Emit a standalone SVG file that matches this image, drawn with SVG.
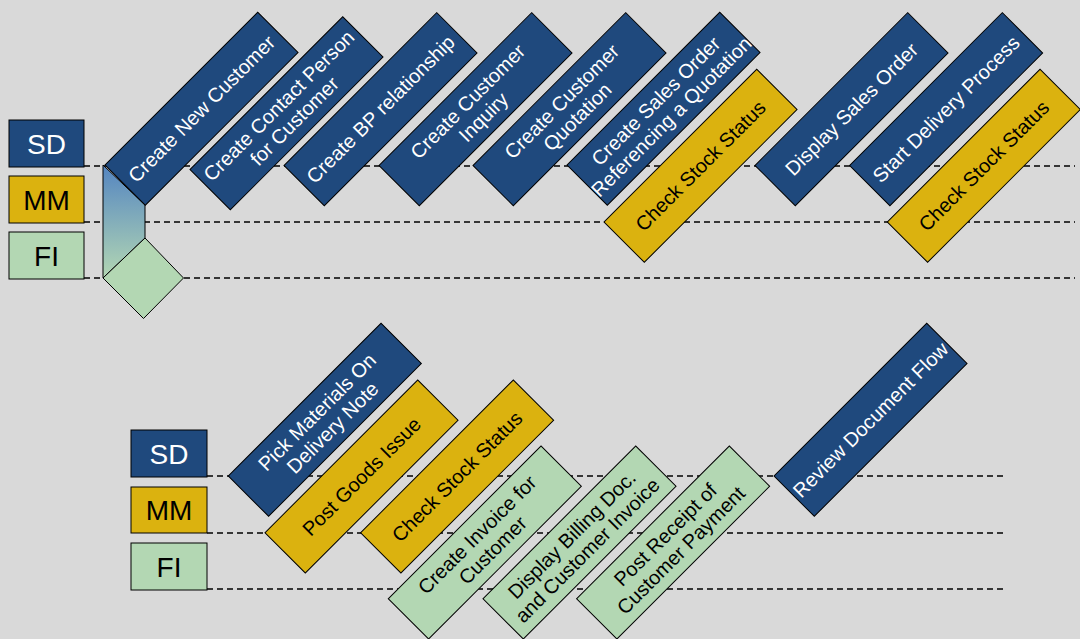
<svg xmlns="http://www.w3.org/2000/svg" width="1080" height="639" viewBox="0 0 1080 639">
<style>
.bg{fill:#d9d9d9}
.lane{stroke:#000;stroke-width:1.3;stroke-dasharray:6,4;fill:none}
.sd{fill:#1f497d;stroke:#000;stroke-width:1}
.mm{fill:#dbb20f;stroke:#000;stroke-width:1}
.fi{fill:#b3d7b3;stroke:#000;stroke-width:1}
text{font-family:"Liberation Sans",Arial,sans-serif;text-anchor:middle}
.t{font-size:20px}
.w{fill:#fff}
.k{fill:#000}
.leg{font-size:28px}
</style>
<defs>
<linearGradient id="g1" x1="0" y1="165" x2="0" y2="278" gradientUnits="userSpaceOnUse">
<stop offset="0" stop-color="#5485c1"/>
<stop offset="1" stop-color="#b3d7b3"/>
</linearGradient>
</defs>
<rect class="bg" x="0" y="0" width="1080" height="639"/>
<g id="connectors">
<line class="lane" x1="84" y1="166" x2="1075" y2="166"/>
<line class="lane" x1="84" y1="222" x2="1075" y2="222"/>
<line class="lane" x1="84" y1="278" x2="1075" y2="278"/>
<line class="lane" x1="207" y1="476" x2="1006" y2="476"/>
<line class="lane" x1="207" y1="533" x2="1006" y2="533"/>
<line class="lane" x1="207" y1="589" x2="1006" y2="589"/>
</g>
<g id="legend-top">
<g id="leg-sd1"><rect class="sd" x="9" y="120" width="75" height="47"/><text class="leg w" x="46.5" y="153.5">SD</text></g>
<g id="leg-mm1"><rect class="mm" x="9" y="176" width="75" height="47"/><text class="leg k" x="46.5" y="209.5">MM</text></g>
<g id="leg-fi1"><rect class="fi" x="9" y="232" width="75" height="47"/><text class="leg k" x="46.5" y="265.5">FI</text></g>
</g>
<g id="start">
<polygon points="103,165 145,205 145,238 103,278" fill="url(#g1)" stroke="#000" stroke-width="1"/>
<polygon class="fi" points="145,238 183.5,278 143.5,318.5 103,278"/>
</g>
<g id="n1" transform="translate(105,165) rotate(-45)"><rect class="sd" width="216" height="57"/><text class="t w" x="108" y="35.5">Create New Customer</text></g>
<g id="n2" transform="translate(190,169.5) rotate(-45)"><rect class="sd" width="216" height="57"/><text class="t w" x="108" y="24.5">Create Contact Person</text><text class="t w" x="108" y="46.5">for Customer</text></g>
<g id="n3" transform="translate(284,165.4) rotate(-45)"><rect class="sd" width="216" height="57"/><text class="t w" x="108" y="35.5">Create BP relationship</text></g>
<g id="n4" transform="translate(379,165.4) rotate(-45)"><rect class="sd" width="216" height="57"/><text class="t w" x="108" y="24.5">Create Customer</text><text class="t w" x="108" y="46.5">Inquiry</text></g>
<g id="n5" transform="translate(473,165.4) rotate(-45)"><rect class="sd" width="216" height="57"/><text class="t w" x="108" y="24.5">Create Customer</text><text class="t w" x="108" y="46.5">Quotation</text></g>
<g id="n6" transform="translate(567,165) rotate(-45)"><rect class="sd" width="216" height="57"/><text class="t w" x="108" y="24.5">Create Sales Order</text><text class="t w" x="108" y="46.5">Referencing a Quotation</text></g>
<g id="n7" transform="translate(604,222) rotate(-45)"><rect class="mm" width="216" height="57"/><text class="t k" x="108" y="35.5">Check Stock Status</text></g>
<g id="n8" transform="translate(755,165.4) rotate(-45)"><rect class="sd" width="216" height="57"/><text class="t w" x="108" y="35.5">Display Sales Order</text></g>
<g id="n9" transform="translate(849.6,165.4) rotate(-45)"><rect class="sd" width="216" height="57"/><text class="t w" x="108" y="35.5">Start Delivery Process</text></g>
<g id="n10" transform="translate(887.3,222) rotate(-45)"><rect class="mm" width="216" height="57"/><text class="t k" x="108" y="35.5">Check Stock Status</text></g>
<g id="legend-bottom">
<g id="leg-sd2"><rect class="sd" x="131" y="430" width="76" height="47"/><text class="leg w" x="169" y="463.5">SD</text></g>
<g id="leg-mm2"><rect class="mm" x="131" y="487" width="76" height="46"/><text class="leg k" x="169" y="520">MM</text></g>
<g id="leg-fi2"><rect class="fi" x="131" y="543" width="76" height="47"/><text class="leg k" x="169" y="576.5">FI</text></g>
</g>
<g id="n11" transform="translate(228.3,476) rotate(-45)"><rect class="sd" width="216" height="57"/><text class="t w" x="108" y="24.5">Pick Materials On</text><text class="t w" x="108" y="46.5">Delivery Note</text></g>
<g id="n12" transform="translate(265,532.7) rotate(-45)"><rect class="mm" width="216" height="57"/><text class="t k" x="108" y="35.5">Post Goods Issue</text></g>
<g id="n13" transform="translate(360.6,532.7) rotate(-45)"><rect class="mm" width="216" height="57"/><text class="t k" x="108" y="35.5">Check Stock Status</text></g>
<g id="n14" transform="translate(388.3,598.7) rotate(-45)"><rect class="fi" width="216" height="57"/><text class="t k" x="108" y="24.5">Create Invoice  for</text><text class="t k" x="108" y="46.5">Customer</text></g>
<g id="n15" transform="translate(483,598.7) rotate(-45)"><rect class="fi" width="216" height="57"/><text class="t k" x="108" y="24.5">Display Billing Doc.</text><text class="t k" x="108" y="46.5">and Customer Invoice</text></g>
<g id="n16" transform="translate(576.6,598.7) rotate(-45)"><rect class="fi" width="216" height="57"/><text class="t k" x="108" y="24.5">Post Receipt of</text><text class="t k" x="108" y="46.5">Customer Payment</text></g>
<g id="n17" transform="translate(774,476) rotate(-45)"><rect class="sd" width="216" height="57"/><text class="t w" x="108" y="35.5">Review Document Flow</text></g>
</svg>
